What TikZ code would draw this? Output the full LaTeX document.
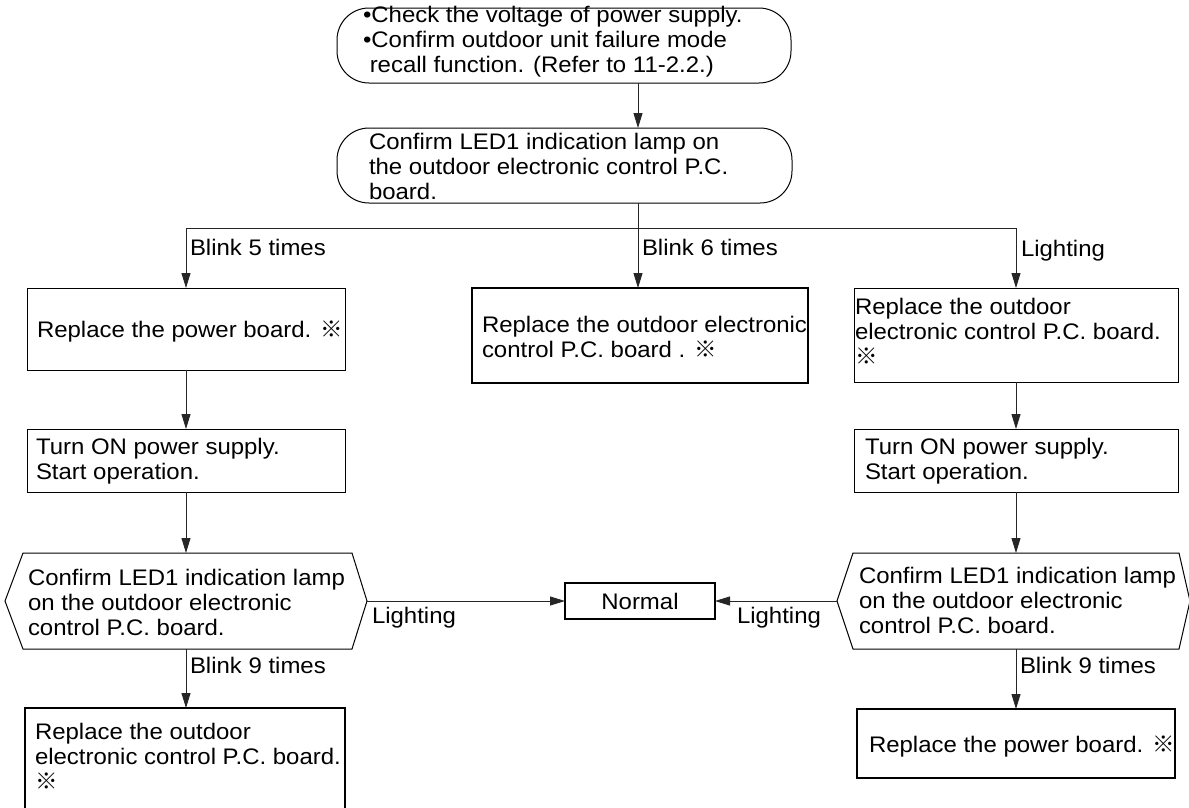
\documentclass[tikz,border=0pt]{standalone}
\usepackage{fontspec}
\setmainfont{Liberation Sans}[FakeStretch=1.065]
\newfontfamily\cjkfont{Noto Sans CJK JP}
\newcommand{\refmk}{{\cjkfont ※}}
\usetikzlibrary{arrows.meta}
\tikzset{
  shp/.style={draw=black, line width=1pt, inner sep=0pt, outer sep=0pt},
  thk/.style={draw=black, line width=2.2pt, inner sep=0pt, outer sep=0pt},
  ghost/.style={draw=none, inner sep=0pt, outer sep=0pt},
  rbox/.style={shp, rounded corners=32pt},
  txt/.style={inner sep=0pt, outer sep=0pt, anchor=north west, align=left, font=\fontsize{22.5}{25}\selectfont},
  lbl/.style={inner sep=0pt, outer sep=0pt, anchor=base west, font=\fontsize{22.5}{25}\selectfont},
  conn/.style={line width=1pt, draw=black!85},
  arr/.style={conn, -{Triangle[length=15pt,width=9pt]}},
  hexline/.style={draw=black, line width=1pt}
}
\begin{document}
\begin{tikzpicture}[x=1pt,y=-1pt]
\fill[white] (0,0) rectangle (1189,807);
\useasboundingbox (0,0) rectangle (1189,807);

% shapes
\node[rbox, minimum width=454pt, minimum height=75pt] (top) at (564,45.5) {};
\node[rbox, minimum width=455pt, minimum height=75pt] (b2) at (564.5,165.5) {};
\node[shp, minimum width=318pt, minimum height=82pt] (l1) at (186,329) {};
\node[thk, minimum width=336pt, minimum height=95pt] (m1) at (640,335.5) {};
\node[shp, minimum width=324pt, minimum height=94pt] (r1) at (1016,335) {};
\node[shp, minimum width=318pt, minimum height=63pt] (l2) at (186,460.5) {};
\node[shp, minimum width=324pt, minimum height=63pt] (r2) at (1016,460.5) {};
\node[ghost, minimum width=362pt, minimum height=96pt] (lh) at (186,601) {};
\node[ghost, minimum width=353pt, minimum height=96pt] (rh) at (1013.5,601) {};
\node[thk, minimum width=150pt, minimum height=36pt] (nm) at (640,601) {};
\node[thk, minimum width=320pt, minimum height=122pt] (bl) at (185,769) {};
\node[thk, minimum width=318pt, minimum height=69pt] (br) at (1016,743.5) {};

\draw[hexline] (lh.west) -- ([xshift=18pt]lh.north west) -- ([xshift=-15pt]lh.north east) -- (lh.east)
  -- ([xshift=-15pt]lh.south east) -- ([xshift=18pt]lh.south west) -- cycle;
\draw[hexline] (rh.west) -- ([xshift=16pt]rh.north west) -- ([xshift=-11pt]rh.north east) -- (rh.east)
  -- ([xshift=-11pt]rh.south east) -- ([xshift=16pt]rh.south west) -- cycle;

% texts
\node[txt] (t0) at (363,6.6) {•Check the voltage of power supply.\\•Confirm outdoor unit failure mode\\\hspace*{0.3em}recall function. (Refer to 11-2.2.)};
\node[txt] (t1) at (369,133.6) {Confirm LED1 indication lamp on\\the outdoor electronic control P.C.\\board.};
\node[lbl] (tl1) at (37,337) {Replace the power board. \refmk};
\node[txt] (tm1) at (482,316.6) {Replace the outdoor electronic\\control P.C. board . \refmk};
\node[txt] (tr1) at (855,298.6) {Replace the outdoor\\electronic control P.C. board.\\\refmk};
\node[txt] (tl2) at (36,438.6) {Turn ON power supply.\\Start operation.};
\node[txt] (tr2) at (865,438.6) {Turn ON power supply.\\Start operation.};
\node[txt] (tlh) at (28,569.6) {Confirm LED1 indication lamp\\on the outdoor electronic\\control P.C. board.};
\node[txt] (trh) at (859,567.6) {Confirm LED1 indication lamp\\on the outdoor electronic\\control P.C. board.};
\node[inner sep=0pt, font=\fontsize{22.5}{25}\selectfont] (tnm) at (nm.center) {Normal};
\node[txt] (tbl) at (35,723.6) {Replace the outdoor\\electronic control P.C. board.\\\refmk};
\node[lbl] (tbr) at (869,752) {Replace the power board. \refmk};

% labels
\node[lbl] (lb5) at (190,255) {Blink 5 times};
\node[lbl] (lb6) at (642,255) {Blink 6 times};
\node[lbl] (lbl1) at (1021,256) {Lighting};
\node[lbl] (lbl2) at (372,623) {Lighting};
\node[lbl] (lbl3) at (737,623) {Lighting};
\node[lbl] (lb9a) at (190,673) {Blink 9 times};
\node[lbl] (lb9b) at (1020,673) {Blink 9 times};

% connectors
\coordinate (sp) at (638,228);
\draw[arr] (top.south -| sp) -- (b2.north -| sp);
\draw[conn] (b2.south -| sp) -- (sp);
\draw[conn] (l1.north |- sp) -- (r1.north |- sp);
\draw[arr] (l1.north |- sp) -- (l1.north);
\draw[arr] (sp) -- (sp |- m1.north);
\draw[arr] (r1.north |- sp) -- (r1.north);
\draw[arr] (l1.south) -- (l2.north);
\draw[arr] (r1.south) -- (r2.north);
\draw[arr] (l2.south) -- (l2.south |- lh.north);
\draw[arr] (r2.south) -- (r2.south |- rh.north);
\draw[arr] (l2.south |- lh.south) -- (l2.south |- bl.north);
\draw[arr] (r2.south |- rh.south) -- (br.north);
\draw[arr] (lh.east) -- (nm.west);
\draw[arr] (rh.west) -- (nm.east);
\end{tikzpicture}
\end{document}
